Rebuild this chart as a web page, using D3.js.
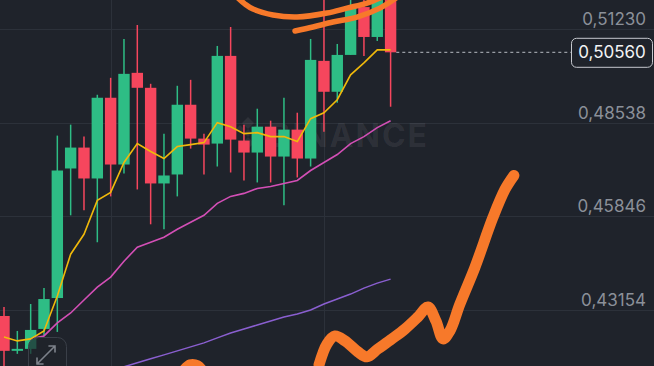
<!DOCTYPE html>
<html>
<head>
<meta charset="utf-8">
<script src="https://cdn.jsdelivr.net/npm/d3@7"></script>
<style>
  html, body { margin: 0; padding: 0; background: #1f232b; overflow: hidden; }
</style>
</head>
<body>
<div id="chart"></div>
<script>
// candles, one per bar (left to right)
const opens  = [0.42982, 0.41980, 0.42037, 0.42610, 0.43498, 0.47221, 0.47822, 0.46934, 0.49254, 0.47335,
                0.49970, 0.49540, 0.46791, 0.47049, 0.49053, 0.48080, 0.47937, 0.50457, 0.48023, 0.47679,
                0.48423, 0.47564, 0.48338, 0.47507, 0.50314, 0.49426, 0.50485, 0.51860, 0.51001, 0.52204];
const highs  = [0.43240, 0.42552, 0.43326, 0.43784, 0.48166, 0.48481, 0.48137, 0.49340, 0.49827, 0.50944,
                0.51345, 0.49655, 0.48223, 0.49598, 0.49769, 0.48223, 0.50743, 0.51287, 0.48481, 0.48939,
                0.48595, 0.49254, 0.48824, 0.50944, 0.52204, 0.50800, 0.52204, 0.52204, 0.52347, 0.52347];
const lows   = [0.41321, 0.41894, 0.41894, 0.42409, 0.42524, 0.45875, 0.46018, 0.45101, 0.46419, 0.47077,
                0.46619, 0.45617, 0.45474, 0.46419, 0.47793, 0.47049, 0.47278, 0.47106, 0.46877, 0.46820,
                0.46820, 0.46161, 0.46963, 0.47278, 0.48280, 0.49111, 0.50485, 0.50457, 0.50886, 0.48996];
const closes = [0.41980, 0.42037, 0.42581, 0.43469, 0.47163, 0.47822, 0.46934, 0.49254, 0.47335, 0.49941,
                0.49540, 0.46791, 0.47020, 0.49053, 0.48080, 0.47908, 0.50457, 0.48051, 0.47679, 0.48423,
                0.47564, 0.48338, 0.47507, 0.50342, 0.49426, 0.50485, 0.51860, 0.51001, 0.52204, 0.50560];

// moving averages (null = not visible)
const ma7  = [0.42381, 0.42266, 0.42324, 0.42553, 0.43555, 0.44758, 0.45331, 0.46304, 0.46533, 0.47393,
              0.47937, 0.47708, 0.47507, 0.47851, 0.47908, 0.47965, 0.48538, 0.48423, 0.48223, 0.48252,
              0.48137, 0.48137, 0.47994, 0.48653, 0.48824, 0.49197, 0.49913, 0.50256, 0.50629, 0.50629];
const ma25 = [null, null, 0.42324, 0.42409, 0.42782, 0.43068, 0.43440, 0.43813, 0.44099, 0.44557,
              0.44958, 0.45101, 0.45245, 0.45474, 0.45674, 0.45875, 0.46218, 0.46419, 0.46505, 0.46648,
              0.46705, 0.46791, 0.46877, 0.47163, 0.47393, 0.47622, 0.47937, 0.48137, 0.48395, 0.48595];
const ma99 = [null, null, null, null, null, null, null, null, 0.41436, 0.41522,
              0.41636, 0.41751, 0.41865, 0.41980, 0.42094, 0.42209, 0.42352, 0.42495, 0.42610, 0.42724,
              0.42839, 0.42954, 0.43039, 0.43154, 0.43326, 0.43469, 0.43612, 0.43784, 0.43927, 0.44042];

const priceTicks = [0.51230, 0.48538, 0.45846, 0.43154];
const timeGridBars = [8, 24];
const lastPrice = 0.50560;

// hand-drawn orange marks, as [bar index, price]
const markBig = [[23.63, 0.41579], [24.23, 0.42180], [24.83, 0.42409], [25.58, 0.42266], [26.55, 0.41951],
                 [27.23, 0.41808], [28.05, 0.42037], [29.10, 0.42324], [30.08, 0.42610], [31.05, 0.42954],
                 [31.80, 0.43240], [32.40, 0.42839], [32.93, 0.42324], [33.45, 0.42553], [34.20, 0.43326],
                 [35.33, 0.44385], [36.68, 0.45817], [37.58, 0.46619], [38.25, 0.47020]];
const markBlob = [[13.43, 0.41436], [13.95, 0.41608], [14.55, 0.41579], [14.92, 0.41436]];
const markTop1 = [[17.40, 0.52175], [18.08, 0.51946], [18.68, 0.51803], [20.18, 0.51631], [21.98, 0.51574],
                  [24.23, 0.51688], [25.73, 0.51831], [27.23, 0.51975], [28.35, 0.52146]];
const markTop2 = [[21.83, 0.51173], [23.18, 0.51287], [24.68, 0.51430], [26.48, 0.51574], [28.20, 0.51831],
                  [29.40, 0.52118]];

const width = 654, height = 366;
const up = "#2ebd85", down = "#f6465d";
const fmt = v => d3.format(".5f")(v).replace(".", ",");

const svg = d3.select("#chart").append("svg")
  .attr("width", width).attr("height", height)
  .style("font-family", "Inter, 'Noto Sans', sans-serif");

svg.append("rect").attr("width", width).attr("height", height).attr("fill", "#1f232b");

const x = d3.scaleLinear().domain([0, 29]).range([4, 390.6]);
const y = d3.scaleLinear().domain([0.43154, 0.51230]).range([310, 29]);
const bodyW = 11.4;

// grid
svg.append("g").selectAll("line").data(priceTicks).enter().append("line")
  .attr("x1", 0).attr("x2", width)
  .attr("y1", d => Math.round(y(d)) + 0.5).attr("y2", d => Math.round(y(d)) + 0.5)
  .attr("stroke", "#2c313a").attr("stroke-width", 1);
svg.append("g").selectAll("line").data(timeGridBars).enter().append("line")
  .attr("x1", d => Math.round(x(d)) + 0.5).attr("x2", d => Math.round(x(d)) + 0.5)
  .attr("y1", 0).attr("y2", height)
  .attr("stroke", "#2c313a").attr("stroke-width", 1);

// watermark
const wm = svg.append("g").attr("fill", "#ffffff").attr("fill-opacity", 0.07);
wm.append("path")
  .attr("d", "M248,117 l6,6 l-6,6 l-6,-6 z M240,125 l4,4 l-4,4 l-4,-4 z M256,125 l4,4 l-4,4 l-4,-4 z M248,129 l4,4 l-4,4 l-4,-4 z M248,137 l6,6 l-6,6 l-6,-6 z");
wm.append("text").attr("x", 427).attr("y", 147).attr("text-anchor", "end")
  .attr("font-size", 32).attr("font-weight", 700).attr("textLength", 158)
  .text("BINANCE");

// candles
const bars = d3.range(closes.length);
const cg = svg.append("g");
cg.selectAll("line").data(bars).enter().append("line")
  .attr("x1", i => x(i)).attr("x2", i => x(i))
  .attr("y1", i => y(highs[i])).attr("y2", i => y(lows[i]))
  .attr("stroke", i => closes[i] >= opens[i] ? up : down)
  .attr("stroke-width", 1.5);
cg.selectAll("rect").data(bars).enter().append("rect")
  .attr("x", i => x(i) - bodyW / 2)
  .attr("y", i => y(Math.max(opens[i], closes[i])))
  .attr("width", bodyW)
  .attr("height", i => Math.max(1.5, Math.abs(y(opens[i]) - y(closes[i]))))
  .attr("fill", i => closes[i] >= opens[i] ? up : down);

// moving averages
const maLine = d3.line().defined(d => d != null).x((d, i) => x(i)).y(d => y(d)).curve(d3.curveLinear);
svg.append("path").attr("d", maLine(ma99)).attr("fill", "none").attr("stroke", "#8a5fd0").attr("stroke-width", 1.5);
svg.append("path").attr("d", maLine(ma25)).attr("fill", "none").attr("stroke", "#d34fb6").attr("stroke-width", 1.6);
svg.append("path").attr("d", maLine(ma7)).attr("fill", "none").attr("stroke", "#f0b90b").attr("stroke-width", 1.6);

// last price line and tag
svg.append("line")
  .attr("x1", x(29) + bodyW / 2).attr("x2", 571)
  .attr("y1", y(lastPrice)).attr("y2", y(lastPrice))
  .attr("stroke", "#b8bcc4").attr("stroke-width", 1).attr("stroke-dasharray", "3,3");
svg.append("rect")
  .attr("x", 571.5).attr("y", y(lastPrice) - 14).attr("width", 81).attr("height", 29).attr("rx", 5)
  .attr("fill", "#1f232b").attr("stroke", "#c6c9cf").attr("stroke-width", 1);
svg.append("text")
  .attr("x", 612).attr("y", y(lastPrice) + 6).attr("text-anchor", "middle")
  .attr("fill", "#f2f3f5").attr("font-size", 17)
  .text(fmt(lastPrice));

// price axis labels
svg.append("g").selectAll("text").data(priceTicks).enter().append("text")
  .attr("x", 646).attr("y", d => y(d) - 4).attr("text-anchor", "end")
  .attr("fill", "#8b9099").attr("font-size", 17)
  .text(d => fmt(d));

// hand-drawn marks
const markLine = d3.line().x(d => x(d[0])).y(d => y(d[1])).curve(d3.curveCatmullRom);
const marks = svg.append("g").attr("fill", "none").attr("stroke", "#f7792a")
  .attr("stroke-linecap", "round").attr("stroke-linejoin", "round");
marks.append("path").attr("d", markLine(markTop1)).attr("stroke-width", 5.5);
marks.append("path").attr("d", markLine(markTop2)).attr("stroke-width", 5.5);
marks.append("path").attr("d", markLine(markBig)).attr("stroke-width", 11);
marks.append("path").attr("d", markLine(markBlob)).attr("stroke-width", 9);

// expand button
const btn = svg.append("g");
btn.append("rect").attr("x", 28.5).attr("y", 337.5).attr("width", 38).attr("height", 48).attr("rx", 9)
  .attr("fill", "#1f232b").attr("fill-opacity", 0.7).attr("stroke", "#3a3f48").attr("stroke-width", 1);
btn.append("path")
  .attr("d", "M37,364 L55,346 M49,346 L55,346 L55,352 M37,358 L37,364 L43,364")
  .attr("fill", "none").attr("stroke", "#7d828b").attr("stroke-width", 1.6).attr("stroke-linecap", "round");
</script>
</body>
</html>
